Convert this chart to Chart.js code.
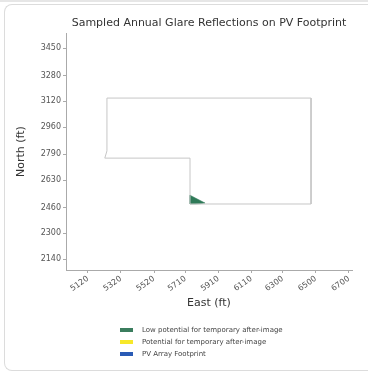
<!DOCTYPE html>
<html>
<head>
<meta charset="utf-8">
<script src="https://cdn.jsdelivr.net/npm/chart.js@4.4.1/dist/chart.umd.min.js"></script>
<style>
  html, body { margin: 0; padding: 0; background: #fff; overflow: hidden; }
  body { width: 368px; height: 373px; position: relative; overflow: hidden; font-family: "DejaVu Sans", sans-serif; }
  #band { position: absolute; left: 0; top: 0; width: 368px; height: 2px; background: #e6e6e6; }
  #card { position: absolute; left: 4px; top: 4px; width: 440px; height: 367px; border-left: 1px solid #dcdcdc; border-top: 1px solid #dcdcdc; border-bottom: 1px solid #dcdcdc; border-radius: 8px 0 0 8px; box-sizing: border-box; }
  #wrap { position: absolute; left: 0; top: 0; width: 368px; height: 373px; }
  #legend { position: absolute; left: 120px; top: 324px; font-size: 7px; color: #444; line-height: 12px; }
  .item { display: flex; align-items: center; height: 12px; }
  .sw { width: 13px; height: 4px; margin-right: 9px; }
</style>
</head>
<body>
<div id="band"></div>
<div id="card"></div>
<div id="wrap"><canvas id="c" width="368" height="373"></canvas></div>
<div id="legend"></div>
<script>
// ---- data ----
const xTicks = [5120, 5320, 5520, 5710, 5910, 6110, 6300, 6500, 6700];
const yTicks = [2140, 2300, 2460, 2630, 2790, 2960, 3120, 3280, 3450];
const footprintEast  = [5235, 6471, 6471, 5738, 5738, 5222, 5235, 5235];
const footprintNorth = [3140, 3140, 2482, 2482, 2767, 2767, 2812, 3140];
const glareEast  = [5738, 5738, 5770, 5800, 5829, 5738];
const glareNorth = [2537, 2482, 2482, 2484, 2488, 2537];
const legendLabels = ['Low potential for temporary after-image', 'Potential for temporary after-image', 'PV Array Footprint'];
const legendColors = ['#3b7d5e', '#f7e82a', '#2a5bb5'];

const toPts = (xs, ys) => xs.map((x, i) => ({x: x, y: ys[i]}));

const tickFont = {family: 'DejaVu Sans', size: 8};
const titleFont = {family: 'DejaVu Sans', size: 11};

const centerTitle = {
  id: 'centerTitle',
  afterLayout(chart) {
    if (chart.titleBlock) {
      chart.titleBlock.left = chart.chartArea.left;
      chart.titleBlock.right = chart.chartArea.right;
      chart.titleBlock.width = chart.chartArea.right - chart.chartArea.left;
    }
  }
};

new Chart(document.getElementById('c'), {
  type: 'scatter',
  data: {
    datasets: [
      {
        label: 'PV Array Footprint outline',
        data: toPts(footprintEast, footprintNorth),
        showLine: true,
        borderColor: '#c6c6c6',
        borderWidth: 1,
        pointRadius: 0,
        fill: false,
        tension: 0
      },
      {
        label: legendLabels[0],
        data: toPts(glareEast, glareNorth),
        showLine: true,
        borderColor: '#2f7a58',
        backgroundColor: '#2f7a58',
        borderWidth: 0.5,
        pointRadius: 0,
        fill: 'shape',
        tension: 0
      }
    ]
  },
  options: {
    responsive: false,
    animation: false,
    devicePixelRatio: 1,
    layout: {padding: {left: 4, right: 16, top: 0, bottom: 60}},
    plugins: {
      legend: {display: false},
      tooltip: {enabled: false},
      title: {
        display: true,
        text: 'Sampled Annual Glare Reflections on PV Footprint',
        color: '#333',
        font: {family: 'DejaVu Sans', size: 11, weight: 'normal'},
        padding: {top: 17, bottom: 3}
      }
    },
    scales: {
      x: {
        type: 'linear',
        min: 4987,
        max: 6719,
        afterBuildTicks: s => { s.ticks = xTicks.map(v => ({value: v})); },
        afterFit: s => { s.height = 43; },
        ticks: {
          callback: v => String(v),
          font: tickFont,
          color: '#555',
          minRotation: 35,
          maxRotation: 35,
          padding: 1
        },
        grid: {display: true, drawOnChartArea: false, drawTicks: true, tickLength: 3, color: '#aaa'},
        border: {display: true, color: '#aaa'},
        title: {display: true, text: 'East (ft)', color: '#333', font: titleFont, padding: {top: 0, bottom: 3}}
      },
      y: {
        type: 'linear',
        min: 2072,
        max: 3543,
        afterBuildTicks: s => { s.ticks = yTicks.map(v => ({value: v})); },
        afterFit: s => { s.width = 62; },
        ticks: {
          callback: v => String(v),
          font: tickFont,
          color: '#555',
          padding: 2
        },
        grid: {display: true, drawOnChartArea: false, drawTicks: true, tickLength: 3, color: '#aaa'},
        border: {display: true, color: '#aaa'},
        title: {display: true, text: 'North (ft)', color: '#333', font: titleFont, padding: {top: 11, bottom: 0}}
      }
    }
  },
  plugins: [centerTitle]
});

const lg = document.getElementById('legend');
legendLabels.forEach((t, i) => {
  const d = document.createElement('div');
  d.className = 'item';
  const sw = document.createElement('span');
  sw.className = 'sw';
  sw.style.background = legendColors[i];
  const tx = document.createElement('span');
  tx.textContent = t;
  d.appendChild(sw);
  d.appendChild(tx);
  lg.appendChild(d);
});
</script>
</body>
</html>
